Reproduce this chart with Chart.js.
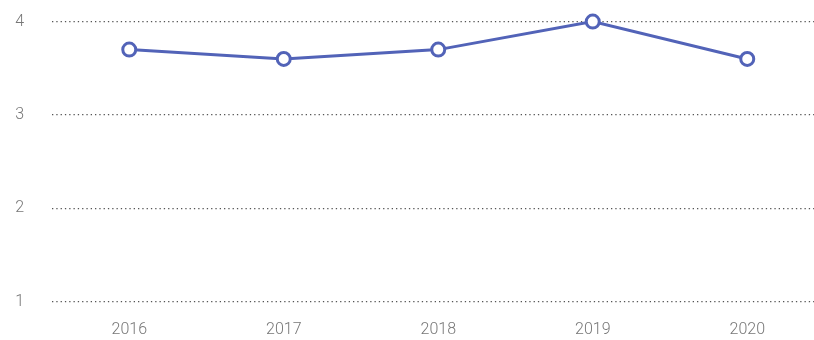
<!DOCTYPE html>
<html>
<head>
<meta charset="utf-8">
<script src="https://cdn.jsdelivr.net/npm/chart.js@4/dist/chart.umd.min.js"></script>
<style>
  html, body { margin: 0; padding: 0; background: #fff; overflow: hidden; width: 814px; height: 340px; }
  #wrap { position: absolute; left: 0; top: -16px; width: 834px; height: 357px; }
</style>
</head>
<body>
<div id="wrap"><canvas id="chart"></canvas></div>
<script>
const years = ["2016", "2017", "2018", "2019", "2020"];
const scores = [3.7, 3.6, 3.7, 4.0, 3.6];
const yTicks = [1, 2, 3, 4];

const tickFont = { family: "Roboto", size: 16, weight: 300 };

const ctx = document.getElementById("chart");
new Chart(ctx, {
  type: "line",
  data: {
    labels: years,
    datasets: [
      {
        data: scores,
        borderColor: "#5263b8",
        borderWidth: 3,
        pointBackgroundColor: "#ffffff",
        pointBorderColor: "#5263b8",
        pointBorderWidth: 3,
        pointRadius: 6.5,
        tension: 0,
        clip: false,
      },
    ],
  },
  options: {
    responsive: true,
    maintainAspectRatio: false,
    animation: false,
    layout: { padding: { top: -3, right: -8, bottom: -10, left: 8 } },
    plugins: { legend: { display: false }, tooltip: { enabled: false } },
    scales: {
      x: {
        offset: true,
        grid: { display: false },
        border: { display: false },
        ticks: { color: "#777", font: tickFont, padding: 11 },
      },
      y: {
        min: 1,
        max: 4,
        afterBuildTicks: (axis) => { axis.ticks = yTicks.map((v) => ({ value: v })); },
        afterFit: (axis) => { axis.width = 44; },
        grid: { color: "#555", lineWidth: 1.2, drawTicks: false },
        border: { display: false, dash: [1.3, 3] },
        ticks: { color: "#777", font: tickFont, padding: 28 },
      },
    },
  },
});
</script>
</body>
</html>
